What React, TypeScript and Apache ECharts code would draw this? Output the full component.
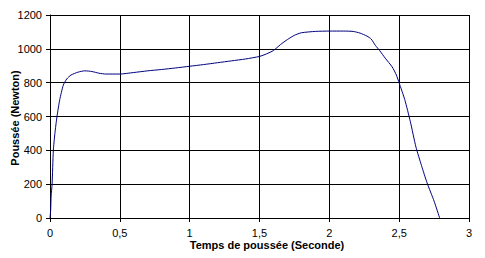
import React, { useEffect, useRef } from "react";
import * as echarts from "echarts";

const times: number[] = [
  0, 0.005, 0.008, 0.015, 0.024, 0.035, 0.05, 0.07, 0.095, 0.12, 0.15, 0.2, 0.25, 0.3, 0.35, 0.4,
  0.5, 0.6, 0.7, 0.8, 0.9, 1.0, 1.1, 1.2, 1.3, 1.4, 1.5, 1.55, 1.6, 1.65, 1.7, 1.75, 1.8, 1.9,
  2.0, 2.1, 2.17, 2.22, 2.27, 2.3, 2.33, 2.36, 2.4, 2.45, 2.48, 2.5, 2.54, 2.58, 2.62, 2.66,
  2.7, 2.75, 2.79,
];
const thrust: number[] = [
  0, 50, 130, 200, 400, 500, 600, 700, 785, 822, 845, 862, 870, 866, 856, 851,
  851, 860, 870, 878, 887, 897, 907, 918, 929, 940, 955, 970, 990, 1025, 1055, 1080, 1095, 1103,
  1105, 1105, 1103, 1093, 1075, 1058, 1020, 990, 945, 893, 845, 798, 700, 570, 420, 310,
  207, 100, 0,
];
const xTicks: string[] = ["0", "0,5", "1", "1,5", "2", "2,5", "3"];
const xTitle = "Temps de poussée (Seconde)";
const yTitle = "Poussée (Newton)";

export default function App() {
  const ref = useRef<HTMLDivElement>(null);
  useEffect(() => {
    if (!ref.current) return;
    const chart = echarts.init(ref.current, undefined, { renderer: "svg" });
    const font = "'Liberation Sans', Arial, sans-serif";
    chart.setOption({
      animation: false,
      backgroundColor: "#ffffff",
      grid: { left: 50, right: 16, top: 15, bottom: 40, containLabel: false, outerBoundsMode: "none" },
      xAxis: {
        type: "value",
        min: 0,
        max: 3,
        interval: 0.5,
        axisLine: { show: true, lineStyle: { color: "#000", width: 1 } },
        axisTick: { show: true, length: 4, inside: false, lineStyle: { color: "#000" } },
        splitLine: { show: true, lineStyle: { color: "#000", width: 1 } },
        axisLabel: {
          color: "#000",
          fontFamily: font,
          fontSize: 11,
          margin: 9,
          formatter: (v: number) => {
            const i = Math.round(v / 0.5);
            return xTicks[i] ?? String(v);
          },
        },
      },
      yAxis: {
        type: "value",
        min: 0,
        max: 1200,
        interval: 200,
        axisLine: { show: true, lineStyle: { color: "#000", width: 1 } },
        axisTick: { show: true, length: 4, lineStyle: { color: "#000" } },
        splitLine: { show: true, lineStyle: { color: "#000", width: 1 } },
        axisLabel: {
          color: "#000",
          fontFamily: font,
          fontSize: 11,
          margin: 8,
          formatter: (v: number) => String(v),
        },
      },
      graphic: [
        {
          type: "text",
          x: 267,
          y: 245,
          style: {
            text: xTitle,
            fill: "#000",
            font: `bold 11px ${font}`,
            textAlign: "center",
            textVerticalAlign: "middle",
          },
        },
        {
          type: "text",
          x: 15,
          y: 118,
          rotation: Math.PI / 2,
          style: {
            text: yTitle,
            fill: "#000",
            font: `bold 11px ${font}`,
            textAlign: "center",
            textVerticalAlign: "middle",
          },
        },
        {
          type: "line",
          shape: { x1: 469.5, y1: 15, x2: 469.5, y2: 218 },
          style: { stroke: "#000", lineWidth: 1 },
        },
      ],
      series: [
        {
          type: "line",
          data: times.map((t, i) => [t, thrust[i]]),
          showSymbol: false,
          smooth: 0.2,
          lineStyle: { color: "#000080", width: 1 },
        },
      ],
    });
    return () => chart.dispose();
  }, []);
  return (
    <div
      ref={ref}
      style={{ position: "fixed", left: 0, top: 0, width: 485, height: 258, background: "#fff" }}
    />
  );
}
